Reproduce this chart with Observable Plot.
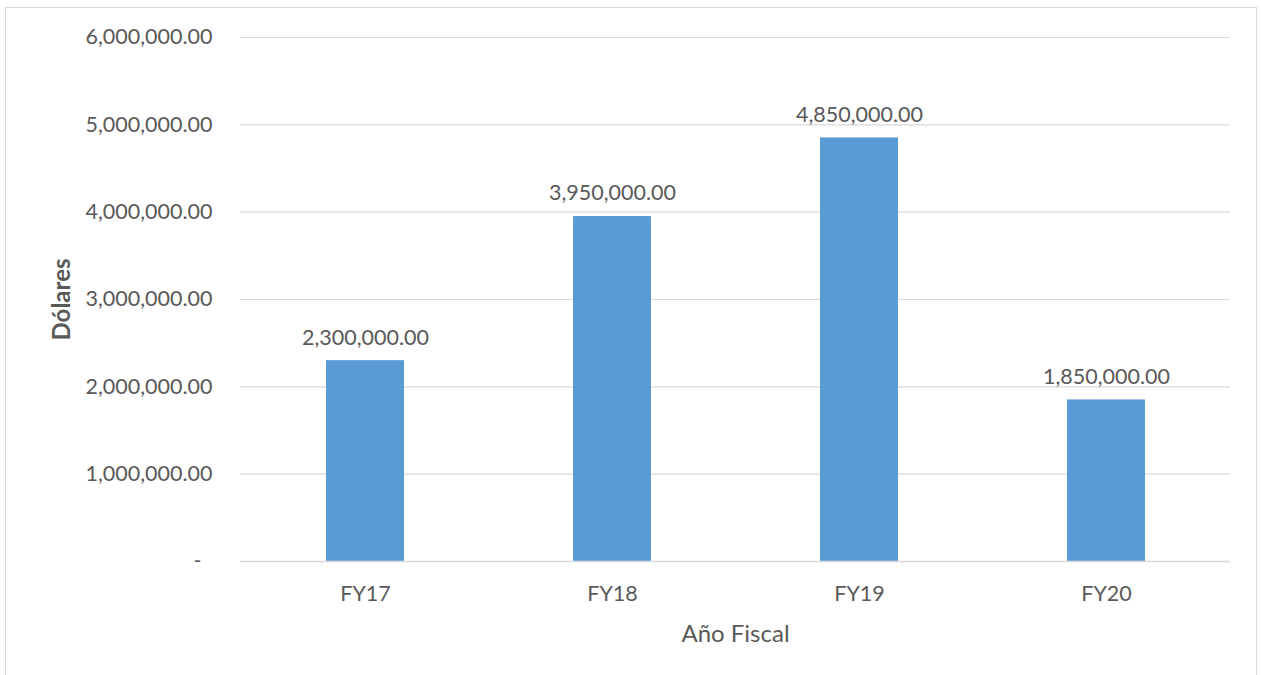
<!DOCTYPE html>
<html>
<head>
<meta charset="utf-8">
<script src="https://cdn.jsdelivr.net/npm/d3@7"></script>
<script src="https://cdn.jsdelivr.net/npm/@observablehq/plot@0.6"></script>
<style>
  html, body { margin: 0; padding: 0; background: #fff; overflow: hidden; }
  #wrap { position: relative; width: 1261px; height: 675px; }
  #frame { position: absolute; left: 5px; top: 7px; width: 1252px; height: 700px; border: 1.5px solid #d9d9d9; box-sizing: border-box; }
  #chart { position: absolute; left: 0; top: 0; }
</style>
</head>
<body>
<div id="wrap"><div id="frame"></div><div id="chart"></div></div>
<script>
const years = ["FY17", "FY18", "FY19", "FY20"];
const amounts = [2300000, 3950000, 4850000, 1850000];
const yTicks = [0, 1000000, 2000000, 3000000, 4000000, 5000000, 6000000];

const data = years.map((year, i) => ({year, amount: amounts[i]}));
const money = d3.format(",.2f");
const font = "Lato, 'Open Sans', sans-serif";
const ink = "#595959";
const size = 21.5;

const chart = Plot.plot({
  width: 1261,
  height: 675,
  marginLeft: 240,
  marginRight: 31,
  marginTop: 37,
  marginBottom: 114,
  style: {fontFamily: font, fontSize: size + "px", color: ink, background: "transparent"},
  x: {domain: years, paddingInner: 0.685, paddingOuter: 0.3425, label: null},
  y: {domain: [0, 6000000], label: null},
  marks: [
    Plot.gridY(yTicks, {stroke: "#d9d9d9", strokeOpacity: 1, strokeWidth: 1.2}),
    Plot.barY(data, {x: "year", y: "amount", fill: "#5b9bd5"}),
    Plot.ruleY([0], {stroke: "#d9d9d9", strokeWidth: 1.5}),
    Plot.text(data, {x: "year", y: "amount", text: d => money(d.amount), dy: -23, fill: ink, fontSize: size}),
    Plot.axisY({ticks: yTicks, tickSize: 0, tickPadding: 28, fill: ink, fontSize: size,
      tickFormat: d => d === 0 ? "-\u00a0\u00a0" : money(d), label: null}),
    Plot.axisX({tickSize: 0, tickPadding: 24, fill: ink, fontSize: size, label: null}),
    Plot.text(["Año Fiscal"], {frameAnchor: "bottom", dy: 80, fill: ink, fontSize: 24}),
    Plot.text(["Dólares"], {frameAnchor: "left", dx: -178, rotate: -90, textAnchor: "middle", lineAnchor: "middle",
      fill: ink, fontSize: 24, fontWeight: "bold"})
  ]
});
document.getElementById("chart").appendChild(chart);
</script>
</body>
</html>
